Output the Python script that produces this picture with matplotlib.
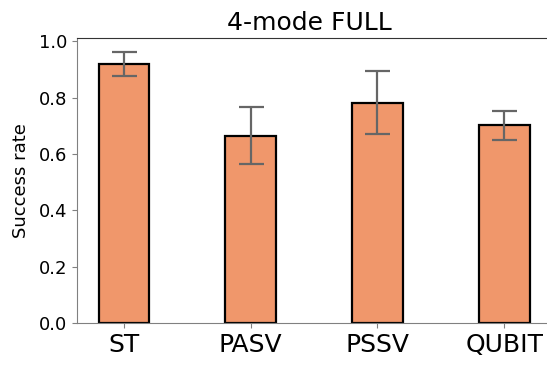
import matplotlib
matplotlib.use("Agg")
import matplotlib.pyplot as plt

BAR_COLOR = "#F0976B"

methods = ["ST", "PASV", "PSSV", "QUBIT"]
success_rate = [0.92, 0.665, 0.782, 0.701]
error = [0.043, 0.101, 0.111, 0.050]


def main() -> None:
    fig = plt.figure(figsize=(5.47, 3.65), dpi=100)
    # axes run slightly past the right edge, as in the cropped reference
    ax = fig.add_axes([0.1408, 0.1151, 0.8666, 0.7808])

    positions = list(range(len(methods)))
    ax.bar(
        positions,
        success_rate,
        width=0.4,
        color=BAR_COLOR,
        edgecolor="black",
        linewidth=1.6,
        yerr=error,
        error_kw={"ecolor": "#666666", "elinewidth": 1.6, "capsize": 9, "capthick": 1.6},
    )

    ax.set_xticks(positions)
    ax.set_xticklabels(methods, fontsize=18)
    ax.tick_params(axis="y", labelsize=13)
    ax.set_ylabel("Success rate", fontsize=13, labelpad=6)
    ax.set_title("4-mode FULL", fontsize=18, x=0.49)

    for side in ["left", "bottom"]:
        ax.spines[side].set_color("#808080")
    for side in ["top", "right"]:
        ax.spines[side].set_color("#333333")
    ax.tick_params(colors="#808080", labelcolor="black")

    fig.savefig("out.png", dpi=100)
    plt.close(fig)


if __name__ == "__main__":
    main()
